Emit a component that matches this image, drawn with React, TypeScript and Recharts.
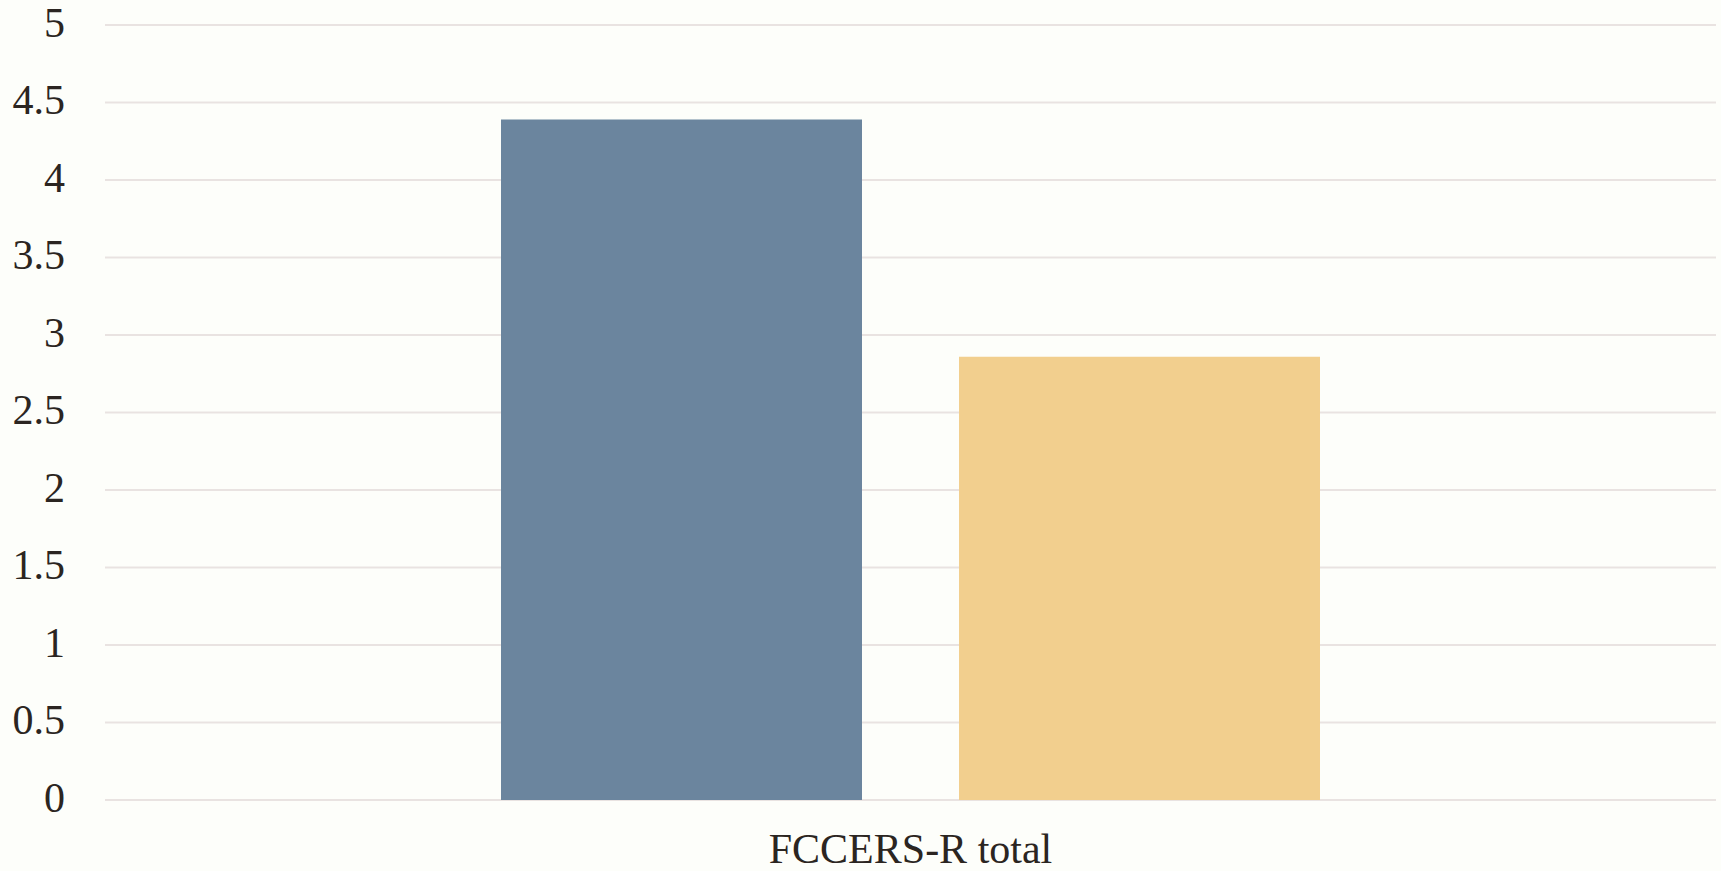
import { BarChart, Bar, XAxis, YAxis, CartesianGrid } from 'recharts';

const categories = ['FCCERS-R total'];
const groupOneValues = [4.39];
const groupTwoValues = [2.86];
const yTicks = [0, 0.5, 1, 1.5, 2, 2.5, 3, 3.5, 4, 4.5, 5];

const data = categories.map((name, i) => ({
  name,
  groupOne: groupOneValues[i],
  groupTwo: groupTwoValues[i],
}));

const textColor = '#2b2521';
const fontFamily = '"Liberation Serif", "Times New Roman", serif';

export default function App() {
  return (
    <div style={{ position: 'absolute', left: 0, top: 0, background: '#fdfefa' }}>
      <BarChart
        width={1721}
        height={871}
        data={data}
        margin={{ top: 25, right: 5, bottom: 0, left: 0 }}
        barGap={97}
        barSize={361}
      >
        <CartesianGrid vertical={false} stroke="#e9e3e1" strokeWidth={2} />
        <XAxis
          dataKey="name"
          height={71}
          axisLine={false}
          tickLine={false}
          tickSize={0}
          tickMargin={33}
          tick={{ fontSize: 42, fill: textColor, fontFamily }}
        />
        <YAxis
          width={105}
          domain={[0, 5]}
          ticks={yTicks}
          axisLine={false}
          tickLine={false}
          tickSize={0}
          tickMargin={40}
          tick={{ fontSize: 42, fill: textColor, fontFamily, dy: -3 }}
        />
        <Bar dataKey="groupOne" fill="#6b859e" isAnimationActive={false} />
        <Bar dataKey="groupTwo" fill="#f2cf8e" isAnimationActive={false} />
      </BarChart>
    </div>
  );
}
